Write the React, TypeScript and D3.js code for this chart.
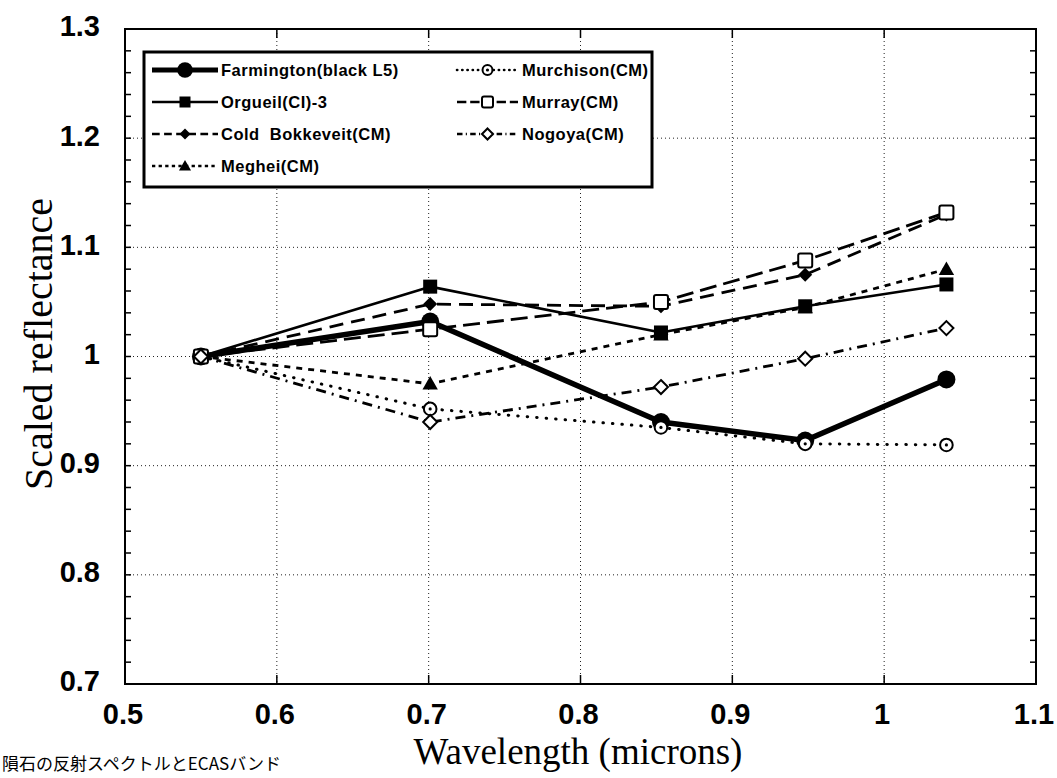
import React from "react";
import * as d3 from "d3";

const wavelengths = [0.55, 0.701, 0.853, 0.948, 1.041];
const seriesNames = [
  "Farmington(black L5)",
  "Orgueil(CI)-3",
  "Cold  Bokkeveit(CM)",
  "Meghei(CM)",
  "Murchison(CM)",
  "Murray(CM)",
  "Nogoya(CM)",
];
const farmington = [1.0, 1.032, 0.94, 0.923, 0.979];
const orgueil = [1.0, 1.064, 1.022, 1.046, 1.066];
const coldBokkeveit = [1.0, 1.048, 1.046, 1.075, 1.13];
const meghei = [1.0, 0.975, 1.02, 1.045, 1.08];
const murchison = [1.0, 0.952, 0.935, 0.92, 0.919];
const murray = [1.0, 1.025, 1.05, 1.088, 1.132];
const nogoya = [1.0, 0.94, 0.972, 0.998, 1.026];

const xTicks = [0.5, 0.6, 0.7, 0.8, 0.9, 1.0, 1.1];
const xTickLabels = ["0.5", "0.6", "0.7", "0.8", "0.9", "1", "1.1"];
const yTicks = [0.7, 0.8, 0.9, 1.0, 1.1, 1.2, 1.3];
const yTickLabels = ["0.7", "0.8", "0.9", "1", "1.1", "1.2", "1.3"];
const caption = "隕石の反射スペクトルとECASバンド";

type MarkerKind = "circle" | "square" | "diamond" | "triangle" | "ocircle" | "osquare" | "odiamond";
const styles: { w: number; dash: string | null; marker: MarkerKind; cap?: string }[] = [
  { w: 5.5, dash: null, marker: "circle" },
  { w: 2.6, dash: null, marker: "square" },
  { w: 2.8, dash: "14,8", marker: "diamond" },
  { w: 2.8, dash: "6,6", marker: "triangle" },
  { w: 3, dash: "0.5,9", marker: "ocircle", cap: "round" },
  { w: 2.8, dash: "17,7", marker: "osquare" },
  { w: 2.8, dash: "10,6,2,6", marker: "odiamond" },
];
const allSeries = [farmington, orgueil, coldBokkeveit, meghei, murchison, murray, nogoya];

function Marker({ kind, x, y, s }: { kind: MarkerKind; x: number; y: number; s: number }) {
  switch (kind) {
    case "circle":
      return <circle cx={x} cy={y} r={s * 0.6} fill="#000" />;
    case "square":
      return <rect x={x - s / 2} y={y - s / 2} width={s} height={s} fill="#000" />;
    case "diamond": {
      const h = s * 0.5;
      return <path d={`M${x},${y - h}L${x + h},${y}L${x},${y + h}L${x - h},${y}Z`} fill="#000" />;
    }
    case "triangle": {
      const h = s * 0.55;
      return <path d={`M${x},${y - h}L${x + h},${y + h * 0.75}L${x - h},${y + h * 0.75}Z`} fill="#000" />;
    }
    case "ocircle":
      return (
        <g>
          <circle cx={x} cy={y} r={s * 0.45} fill="#fff" stroke="#000" strokeWidth={2} />
          <circle cx={x} cy={y} r={1.6} fill="#000" />
        </g>
      );
    case "osquare":
      return <rect x={x - s / 2} y={y - s / 2} width={s} height={s} rx={2} fill="#fff" stroke="#000" strokeWidth={2} />;
    case "odiamond": {
      const h = s * 0.5;
      return (
        <path d={`M${x},${y - h}L${x + h},${y}L${x},${y + h}L${x - h},${y}Z`} fill="#fff" stroke="#000" strokeWidth={2} />
      );
    }
  }
  return null;
}

export default function App() {
  const W = 1057;
  const H = 778;
  const left = 125, right = 1036, top = 29, bottom = 684;
  const x = d3.scaleLinear().domain([0.5, 1.1]).range([left, right]);
  const y = d3.scaleLinear().domain([0.7, 1.3]).range([bottom, top]);
  const line = d3
    .line<number>()
    .x((_, i) => x(wavelengths[i]))
    .y((d) => y(d));

  const minorY = d3.range(0.7, 1.3001, 0.02);
  const tickFont = "'Liberation Sans', Arial, Helvetica, sans-serif";
  const serif = "'Liberation Serif', 'Times New Roman', serif";

  // legend layout
  const lgX0 = 144, lgY0 = 52, lgX1 = 652, lgY1 = 187;
  const rowY = [70, 102, 134, 166];
  const legendItems = seriesNames.map((name, i) => {
    const col = i < 4 ? 0 : 1;
    const row = i < 4 ? i : i - 4;
    return { name, i, col, row };
  });

  return (
    <svg
      width={W}
      height={H}
      style={{ position: "absolute", left: 0, top: 0, background: "#fff" }}
      xmlns="http://www.w3.org/2000/svg"
    >
      <rect x={0} y={0} width={W} height={H} fill="#fff" />
      {/* gridlines */}
      {xTicks.slice(1, -1).map((t) => (
        <line key={"gx" + t} x1={x(t)} x2={x(t)} y1={top} y2={bottom} stroke="#222" strokeWidth={1} strokeDasharray="1,3" />
      ))}
      {yTicks.slice(1, -1).map((t) => (
        <line key={"gy" + t} x1={left} x2={right} y1={y(t)} y2={y(t)} stroke="#222" strokeWidth={1} strokeDasharray="1,3" />
      ))}
      {/* minor ticks left and right */}
      {minorY.map((t, i) => (
        <g key={"my" + i}>
          <line x1={left} x2={left + 6} y1={y(t)} y2={y(t)} stroke="#000" strokeWidth={1.5} />
          <line x1={right} x2={right - 6} y1={y(t)} y2={y(t)} stroke="#000" strokeWidth={1.5} />
        </g>
      ))}
      {xTicks.slice(1, -1).map((t) => (
        <g key={"tx" + t}>
          <line x1={x(t)} x2={x(t)} y1={bottom} y2={bottom - 9} stroke="#000" strokeWidth={1.5} />
          <line x1={x(t)} x2={x(t)} y1={top} y2={top + 9} stroke="#000" strokeWidth={1.5} />
        </g>
      ))}
      {/* frame */}
      <rect x={left} y={top} width={right - left} height={bottom - top} fill="none" stroke="#000" strokeWidth={2} />

      {/* series lines */}
      {allSeries.map((vals, i) => (
        <path
          key={"l" + i}
          d={line(vals) || ""}
          fill="none"
          stroke="#000"
          strokeWidth={styles[i].w}
          strokeDasharray={styles[i].dash || undefined}
          strokeLinecap={(styles[i].cap as any) || "butt"}
          strokeLinejoin="round"
        />
      ))}
      {/* markers */}
      {allSeries.map((vals, i) =>
        vals.map((v, j) => (
          <Marker key={"m" + i + "-" + j} kind={styles[i].marker} x={x(wavelengths[j])} y={y(v)} s={i === 0 ? 15 : 14} />
        ))
      )}

      {/* legend */}
      <rect x={lgX0} y={lgY0} width={lgX1 - lgX0} height={lgY1 - lgY0} fill="#fff" stroke="#000" strokeWidth={3} />
      {legendItems.map(({ name, i, col, row }) => {
        const x0 = col === 0 ? 152 : 457;
        const x1 = col === 0 ? 218 : 518;
        const ly = rowY[row];
        const mx = (x0 + x1) / 2;
        return (
          <g key={"lg" + i}>
            <line
              x1={x0}
              x2={x1}
              y1={ly}
              y2={ly}
              stroke="#000"
              strokeWidth={i === 0 ? 5 : 2.6}
              strokeDasharray={styles[i].dash ? styles[i].dash!.split(",").map((d) => +d * 0.55).join(",") : undefined}
              strokeLinecap={(styles[i].cap as any) || "butt"}
            />
            <Marker kind={styles[i].marker} x={mx} y={ly} s={i === 0 ? 13 : 11} />
            <text
              x={col === 0 ? 221 : 522}
              y={ly}
              dy="0.36em"
              fontFamily={tickFont}
              fontWeight="bold"
              fontSize={16.5}
              letterSpacing={0.5}
              fill="#000"
              style={{ whiteSpace: "pre" }}
            >
              {name}
            </text>
          </g>
        );
      })}

      {/* tick labels */}
      {yTicks.map((t, i) => (
        <text
          key={"yl" + t}
          x={100}
          y={y(t) - 3}
          dy="0.36em"
          textAnchor="end"
          fontFamily={tickFont}
          fontWeight="bold"
          fontSize={29}
          fill="#000"
        >
          {yTickLabels[i]}
        </text>
      ))}
      {xTicks.map((t, i) => (
        <text
          key={"xl" + t}
          x={x(t) - 2}
          y={724}
          textAnchor="middle"
          fontFamily={tickFont}
          fontWeight="bold"
          fontSize={29}
          fill="#000"
        >
          {xTickLabels[i]}
        </text>
      ))}

      {/* axis titles */}
      <text
        transform="translate(52,344) rotate(-90)"
        textAnchor="middle"
        fontFamily={serif}
        fontSize={40}
        fill="#000"
      >
        Scaled reflectance
      </text>
      <text x={578} y={764} textAnchor="middle" fontFamily={serif} fontSize={37} fill="#000">
        Wavelength (microns)
      </text>

      {/* caption (cut off at bottom in the source image) */}
      <text x={2} y={770} fontFamily="'Noto Sans CJK JP', sans-serif" fontSize={17} fill="#000">
        {caption}
      </text>
    </svg>
  );
}
